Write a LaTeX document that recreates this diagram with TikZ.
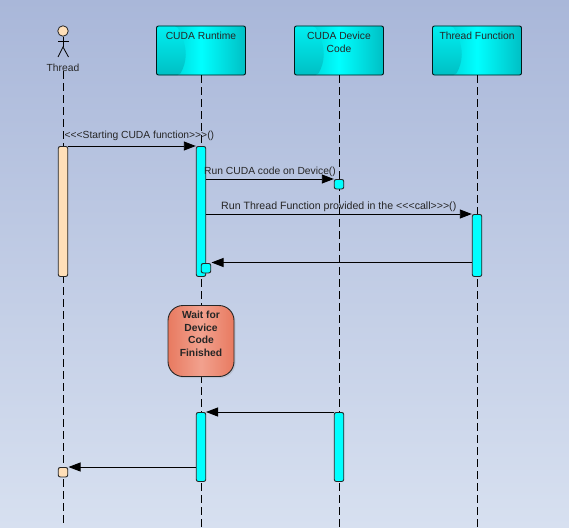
\documentclass[tikz,border=0pt]{standalone}
\usepackage{fontspec}
\setmainfont{Liberation Sans}
\usetikzlibrary{arrows.meta,shadows}
\definecolor{bgtop}{HTML}{A9B7D9}
\definecolor{bgbottom}{HTML}{D7E0F0}
\definecolor{aqua}{HTML}{00FFFF}
\definecolor{aquadark}{HTML}{00BFC4}
\definecolor{flesh}{HTML}{FFDFB8}
\definecolor{salmon}{HTML}{E87A60}
\definecolor{salmonlight}{HTML}{F2A18E}
\tikzset{
	lifebox/.style={draw=black!80!teal, line width=0.9pt, rounded corners=2pt, minimum width=89pt, minimum height=49pt, inner sep=0pt, left color=aquadark, right color=aquadark, middle color=aqua,
		path picture={\shade[top color=aqua!75!aquadark, bottom color=aquadark] (path picture bounding box.south west) -- (path picture bounding box.north west) -- ([xshift=20pt]path picture bounding box.north west) .. controls ([xshift=33pt,yshift=-22pt]path picture bounding box.north west) and ([xshift=30pt,yshift=12pt]path picture bounding box.south west) .. ([xshift=23pt]path picture bounding box.south west) -- cycle;}},
	boxtext/.style={anchor=north, align=center, inner sep=0pt, yshift=-6.5pt, font=\fontsize{10.3}{13}\selectfont, text=black!85},
	waittext/.style={anchor=north, align=center, inner sep=0pt, yshift=-5.5pt, font=\fontsize{10.3}{12.8}\selectfont\bfseries, text=black!85},
	msgtext/.style={inner sep=0pt, font=\fontsize{10.3}{13}\selectfont, text=black!85},
	bar/.style={draw=black!85, line width=0.9pt, rounded corners=2pt, minimum width=9.5pt, inner sep=0pt, anchor=north},
	smallbar/.style={bar, minimum height=9.5pt},
	lifeline/.style={line width=0.9pt, dash pattern=on 8pt off 4pt},
	msg/.style={line width=0.9pt, -{Triangle[length=12pt,width=9pt]}},
}
\begin{document}
\begin{tikzpicture}[x=1pt,y=-1pt]
	\useasboundingbox (0,0) rectangle (569,527);
	\shade[top color=bgtop, bottom color=bgbottom] (0,0) rectangle (569,527);

	\node[circle, draw=black!85, line width=0.8pt, fill=flesh, minimum size=10.5pt, inner sep=0pt] (thrhead) at (63,31) {};
	\coordinate (thrhip) at (63,47);
	\coordinate (thrarml) at (58,41);
	\coordinate (thrarmr) at (68.5,41);
	\coordinate (thrlegl) at (58,57);
	\coordinate (thrlegr) at (68.5,57);
	\draw[line width=0.8pt] (thrhead) -- (thrhip);
	\draw[line width=0.8pt] (thrarml) -- (thrarmr);
	\draw[line width=0.8pt] (thrlegl) -- (thrhip) -- (thrlegr);
	\node[msgtext] (thrlabel) at (63,67.5) {Thread};

	\node[lifebox, label={[boxtext]north:CUDA Runtime}] (rt) at (201,50.5) {};
	\node[lifebox, label={[boxtext]north:CUDA Device\\Code}] (dev) at (339,50.5) {};
	\node[lifebox, label={[boxtext]north:Thread Function}] (fn) at (477,50.5) {};

	\coordinate (thrend) at (63,527);
	\coordinate (rtend) at (201,527);
	\coordinate (devend) at (339,527);
	\coordinate (fnend) at (477,527);
	\draw[lifeline] (thrlabel.south) -- (thrend);
	\draw[lifeline] (rt.south) -- (rtend);
	\draw[lifeline] (dev.south) -- (devend);
	\draw[lifeline] (fn.south) -- (fnend);

	\node[bar, fill=flesh, minimum height=130pt] (thrbar) at (63,146) {};
	\node[bar, fill=aqua, minimum height=130pt] (rtbar) at (201,146) {};
	\node[smallbar, fill=aqua] (devdot) at (339,179) {};
	\node[bar, fill=aqua, minimum height=62pt] (fnbar) at (477,214) {};
	\node[smallbar, fill=aqua] (rtdot) at (206,263) {};

	\node[draw=black!85, line width=0.9pt, rounded corners=15pt, minimum width=66pt, minimum height=71pt, inner sep=0pt, left color=salmon, right color=salmon, middle color=salmonlight, drop shadow={shadow xshift=1.5pt, shadow yshift=-1.5pt, opacity=0.2}, label={[waittext]north:Wait for\\Device\\Code\\Finished}] (wait) at (201,341) {};

	\node[bar, fill=aqua, minimum height=69pt] (rtbarb) at (201,412) {};
	\node[bar, fill=aqua, minimum height=69pt] (devbar) at (339,412) {};
	\node[smallbar, fill=flesh] (thrdot) at (63,467) {};

	\coordinate (rtstartb) at (205.75,179);
	\coordinate (rtstartc) at (205.75,214);
	\coordinate (fnret) at (472.25,262.5);
	\coordinate (rtret) at (211.5,262.5);
	\coordinate (rtback) at (196.25,467);
	\coordinate (thrback) at (68.5,467);
	\coordinate (rtin) at (206,412);
	\draw[msg] (thrbar.north east) -- (rtbar.north west);
	\draw[msg] (rtstartb) -- (devdot.north west);
	\draw[msg] (rtstartc) -- (fnbar.north west);
	\draw[msg] (fnret) -- (rtret);
	\draw[msg] (devbar.north west) -- (rtin);
	\draw[msg] (rtback) -- (thrback);

	\node[msgtext, anchor=west] (msga) at (64.5,136.2) {<{}<{}<Starting CUDA function>{}>{}>()};
	\node[msgtext, anchor=west] (msgb) at (204,171.7) {Run CUDA code on Device()};
	\node[msgtext, anchor=west, font=\fontsize{10.6}{13}\selectfont] (msgc) at (221,207) {Run Thread Function provided in the <{}<{}<call>{}>{}>()};
\end{tikzpicture}
\end{document}
